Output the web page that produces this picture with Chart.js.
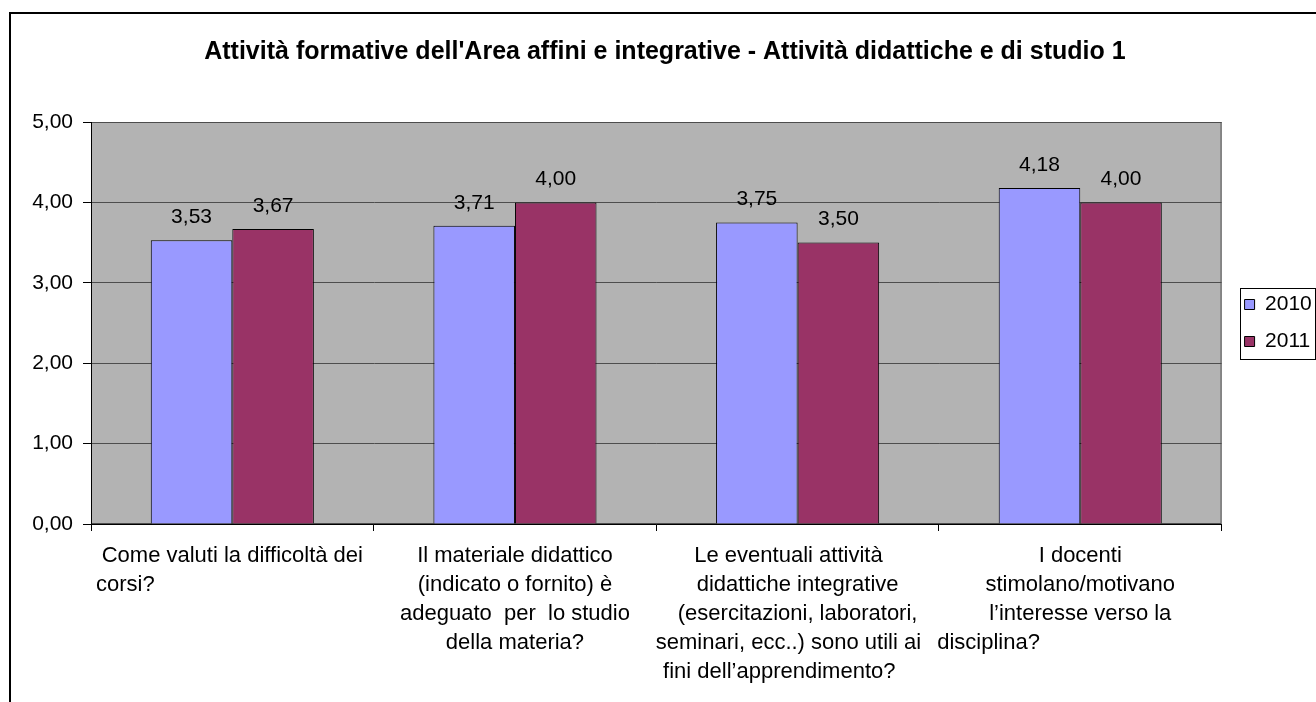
<!DOCTYPE html>
<html>
<head>
<meta charset="utf-8">
<script src="https://cdn.jsdelivr.net/npm/chart.js@4"></script>
<style>
  html, body { margin: 0; padding: 0; background: #ffffff; }
  #wrap { position: relative; width: 1316px; height: 702px; overflow: hidden; }
  #frame { position: absolute; left: 9px; top: 12px; width: 2000px; height: 2000px;
           border-left: 2px solid #000; border-top: 2px solid #000; }
  canvas { position: absolute; left: 0; top: 0; }
</style>
</head>
<body>
<div id="wrap">
  <div id="frame"></div>
  <canvas id="c" width="1316" height="702"></canvas>
</div>
<script>
const titleText = "Attività formative dell'Area affini e integrative - Attività didattiche e di studio 1";
const categories = [
  ["Come valuti la difficoltà dei", "corsi?" + " ".repeat(35)],
  ["Il materiale didattico", "(indicato o fornito) è", "adeguato  per  lo studio", "della materia?"],
  ["Le eventuali attività" + " ".repeat(3), "didattiche integrative", "(esercitazioni, laboratori,", "seminari, ecc..) sono utili ai" + " ".repeat(3), "fini dell’apprendimento?" + " ".repeat(6)],
  ["I docenti", "stimolano/motivano", "l’interesse verso la", "disciplina?" + " ".repeat(30)]
];
const seriesNames = ["2010", "2011"];
const values2010 = [3.53, 3.71, 3.75, 4.18];
const values2011 = [3.67, 4.00, 3.50, 4.00];
const yTicks = [0, 1, 2, 3, 4, 5];

const FONT = "'Liberation Sans', Arial, sans-serif";
const fmt = v => v.toFixed(2).replace('.', ',');

const plotBg = {
  id: 'plotBg',
  beforeDraw(chart) {
    const {ctx, chartArea: a} = chart;
    ctx.save();
    ctx.fillStyle = '#b3b3b3';
    ctx.fillRect(a.left, a.top, a.right - a.left, a.bottom - a.top);
    ctx.strokeStyle = '#4d4d4d';
    ctx.lineWidth = 1;
    ctx.strokeRect(a.left + 0.5, a.top + 0.5, a.right - a.left - 1, a.bottom - a.top - 1);
    ctx.restore();
  }
};

const valueLabels = {
  id: 'valueLabels',
  afterDatasetsDraw(chart) {
    const {ctx} = chart;
    ctx.save();
    ctx.font = "21px " + FONT;
    ctx.fillStyle = '#000';
    ctx.textAlign = 'center';
    ctx.textBaseline = 'middle';
    chart.data.datasets.forEach((ds, i) => {
      chart.getDatasetMeta(i).data.forEach((bar, j) => {
        ctx.fillText(fmt(ds.data[j]), bar.x, bar.y - 23);
      });
    });
    ctx.restore();
  }
};

const legendTweak = {
  id: 'legendTweak',
  afterLayout(chart) {
    const lg = chart.legend;
    if (!lg) return;
    const shift = chart.chartArea.right + 7 - lg.left;
    lg.left += shift;
    lg.right += shift;
  },
  afterDraw(chart) {
    const {ctx, chartArea: a} = chart;
    const x = Math.round(a.right + 18);
    const cy = (a.top + a.bottom) / 2;
    ctx.save();
    ctx.strokeStyle = '#000';
    ctx.lineWidth = 1;
    ctx.strokeRect(x + 0.5, Math.round(cy - 35.5) + 0.5, chart.width - x - 1, 71);
    ctx.restore();
  }
};

new Chart(document.getElementById('c'), {
  type: 'bar',
  data: {
    labels: categories,
    datasets: [
      { label: seriesNames[0], data: values2010, backgroundColor: '#9999ff', borderColor: '#000', borderWidth: 1,
        categoryPercentage: 0.577, barPercentage: 1.0 },
      { label: seriesNames[1], data: values2011, backgroundColor: '#993366', borderColor: '#000', borderWidth: 1,
        categoryPercentage: 0.577, barPercentage: 1.0 }
    ]
  },
  options: {
    responsive: false,
    animation: false,
    devicePixelRatio: 1,
    layout: { padding: { left: 15, right: 1.2, top: 0, bottom: 0 } },
    plugins: {
      title: {
        display: true, text: titleText, color: '#000',
        font: { family: FONT, size: 25, weight: 'bold', lineHeight: 1.2 },
        padding: { top: 37, bottom: 55 }
      },
      legend: {
        position: 'right',
        fullSize: false,
        labels: {
          color: '#000', boxWidth: 10, boxHeight: 10, padding: 16,
          font: { family: FONT, size: 21 }
        }
      },
      tooltip: { enabled: false }
    },
    scales: {
      x: {
        offset: true,
        grid: { display: true, drawOnChartArea: false, drawTicks: true, tickLength: 7, tickColor: '#000', offset: true },
        border: { display: true, color: '#000', width: 1 },
        ticks: { color: '#000', font: { family: FONT, size: 22, lineHeight: '29px' }, padding: 10,
                 maxRotation: 0, minRotation: 0, autoSkip: false },
        afterFit(scale) { scale.height = 178; }
      },
      y: {
        min: yTicks[0], max: yTicks[yTicks.length - 1],
        afterBuildTicks(scale) { scale.ticks = yTicks.map(v => ({ value: v })); },
        grid: { color: '#4d4d4d', drawTicks: true, tickLength: 8, tickColor: '#000' },
        border: { display: true, color: '#000', width: 1 },
        ticks: { color: '#000', font: { family: FONT, size: 21 }, padding: 10, callback: v => fmt(v) },
        afterFit(scale) { scale.width = 76; }
      }
    }
  },
  plugins: [plotBg, valueLabels, legendTweak]
});
</script>
</body>
</html>
